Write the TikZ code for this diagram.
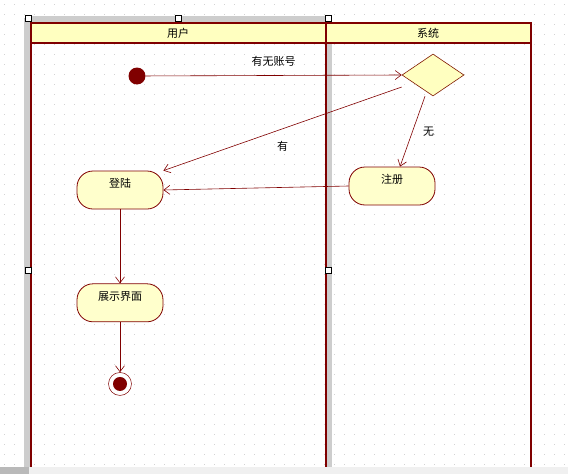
\documentclass[tikz,border=0pt]{standalone}
\usepackage{fontspec}
\setmainfont{Noto Sans CJK SC}
\usepackage{tikz}
\usetikzlibrary{shapes.geometric, arrows.meta, positioning}
\definecolor{lane}{RGB}{128, 0, 0}
\definecolor{headbg}{RGB}{255, 255, 192}
\definecolor{nodebg}{RGB}{255, 255, 204}
\definecolor{gridgray}{RGB}{210, 210, 210}
\definecolor{selgray}{RGB}{205, 205, 205}
\definecolor{barbg}{RGB}{240, 240, 240}
\tikzset{
  font=\fontsize{11}{13}\selectfont,
  actblock/.style={
    rectangle, rounded corners=16pt, draw=lane, fill=nodebg, line width=0.8pt,
    minimum width=86pt, minimum height=38pt,
    text height=9pt, text depth=14pt, inner sep=0pt, align=center
  },
  choiceblock/.style={
    diamond, draw=lane!80!olive, fill=headbg, line width=0.6pt,
    minimum width=62pt, minimum height=42pt, inner sep=0pt
  },
  startdot/.style={circle, fill=lane, minimum size=17pt, inner sep=0pt},
  enddot/.style={
    circle, draw=lane, fill=white, line width=0.5pt, minimum size=23pt, inner sep=0pt,
    path picture={\fill[lane] (path picture bounding box.center) circle (7pt);}
  },
  flowline/.style={
    draw=lane, line width=0.6pt, -{Straight Barb[length=6pt, width=9pt]}
  },
  laneline/.style={draw=lane, line width=2pt},
  handle/.style={rectangle, draw=black, fill=white, line width=0.4pt, minimum size=6pt, inner sep=0pt}
}

\begin{document}
\begin{tikzpicture}[x=1pt, y=-1pt, node distance=74pt]
  \useasboundingbox (0,0) rectangle (568,474);

  % Canvas dots
  \foreach \i in {0,...,56}
    \foreach \j in {0,...,46}
      \fill[gridgray] (\i*10+4,\j*10+4) rectangle ++(1,1);

  % Selection bands
  \fill[selgray] (24,18) rectangle (30,467);
  \fill[selgray] (28,16) rectangle (328,22);
  \fill[selgray] (327,18) rectangle (332,467);

  % Swimlanes
  \fill[headbg] (31,23) rectangle (531,43);
  \draw[laneline] (31,470) -- (31,23) -- (531,23) -- (531,470);
  \draw[laneline] (31,43) -- (531,43);
  \draw[laneline] (326,23) -- (326,470);
  \node (userlane) at (178,33) {用户};
  \node (syslane) at (428,33) {系统};

  % Activities
  \node[startdot] (start) at (137,76) {};
  \node[choiceblock] (decide) at (433,75) {};
  \node[actblock] (login) at (120,190) {登陆};
  \node[actblock] (register) at (392,186) {注册};
  \node[actblock, below=of login] (show) {展示界面};
  \node[enddot, below=50pt of show] (final) {};

  % Flows
  \draw[flowline] (start) -- node[above=5pt] {有无账号} (decide.west);
  \draw[flowline] ([yshift=-12pt]decide.west) -- node[pos=0.5, below=9pt] {有} (login.north east);
  \draw[flowline] ([xshift=-8pt]decide.south) -- node[right=7pt] {无} ([xshift=8pt]register.north);
  \draw[flowline] (register.west) -- (login.east);
  \draw[flowline] (login) -- (show);
  \draw[flowline] (show) -- (final);

  % Status bar
  \fill[barbg] (0,467) rectangle (568,474);
  \fill[selgray!90!black] (0,467) rectangle (29,474);

  % Handles
  \node[handle] (h1) at (28,18) {};
  \node[handle] (h2) at (178,18) {};
  \node[handle] (h3) at (328,18) {};
  \node[handle] (h4) at (28,270) {};
  \node[handle] (h5) at (328,270) {};
\end{tikzpicture}
\end{document}
